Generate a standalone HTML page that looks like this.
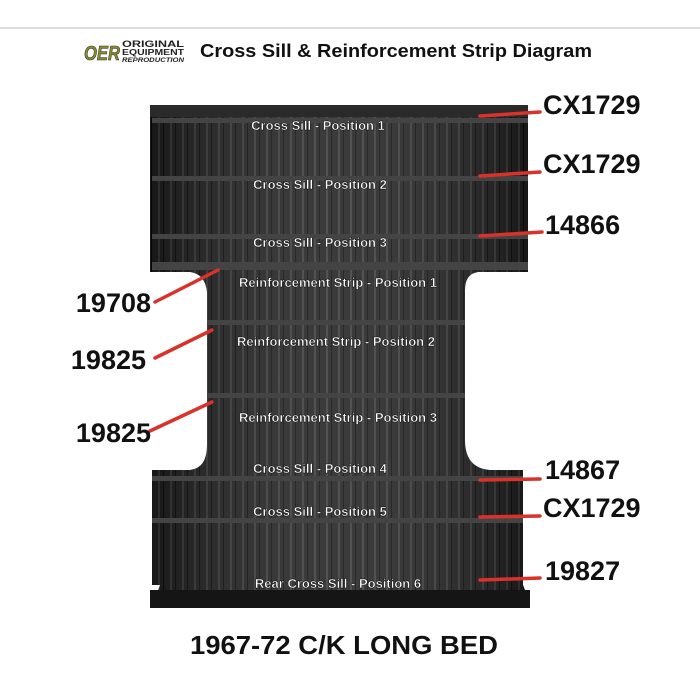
<!DOCTYPE html>
<html><head><style>
body{margin:0;background:#fff;width:700px;height:700px;overflow:hidden}
svg{display:block}
text{font-family:"Liberation Sans",sans-serif;font-weight:bold}
</style></head><body>
<svg width="700" height="700" viewBox="0 0 700 700">
<defs>
<pattern id="rib" width="12" height="10" patternUnits="userSpaceOnUse">
<rect width="12" height="10" fill="#202020"/>
<rect x="2" width="2" height="10" fill="#3a3a3a"/>
<rect x="7" width="1" height="10" fill="#0c0c0c"/>
</pattern>
<linearGradient id="sh" x1="0" x2="1"><stop offset="0" stop-color="#000" stop-opacity=".3"/><stop offset=".5" stop-color="#fff" stop-opacity=".12"/><stop offset="1" stop-color="#000" stop-opacity=".3"/></linearGradient>
</defs>
<line x1="0" y1="28" x2="700" y2="28" stroke="#bbb" stroke-width="1"/>
<text x="84" y="60" font-size="20" fill="#8a8a2a" font-style="italic" stroke="#333" stroke-width=".6" textLength="36" lengthAdjust="spacingAndGlyphs">OER</text>
<text x="122" y="47" font-size="9" fill="#222" textLength="62" lengthAdjust="spacingAndGlyphs">ORIGINAL</text>
<text x="122" y="55" font-size="8" fill="#222" textLength="62" lengthAdjust="spacingAndGlyphs">EQUIPMENT</text>
<text x="122" y="62" font-size="6" fill="#222" font-style="italic" textLength="62" lengthAdjust="spacingAndGlyphs">REPRODUCTION</text>
<text x="200" y="57" font-size="18" fill="#111" textLength="392" lengthAdjust="spacingAndGlyphs">Cross Sill &amp; Reinforcement Strip Diagram</text>
<path d="M150 105 L528 105 L528 272 L478 272 Q465 274 465 290 L465 440 Q465 468 490 470 L523 470 L523 585 L530 603 L152 608 L160 585 L152 585 L152 470 L190 470 Q207 468 207 445 L207 292 Q205 274 190 272 L150 272 Z" fill="url(#rib)"/>
<path d="M150 105 L528 105 L528 272 L478 272 Q465 274 465 290 L465 440 Q465 468 490 470 L523 470 L523 585 L530 603 L152 608 L160 585 L152 585 L152 470 L190 470 Q207 468 207 445 L207 292 Q205 274 190 272 L150 272 Z" fill="url(#sh)"/>
<rect x="150" y="105" width="378" height="12" fill="#2a2a2a"/>
<rect x="150" y="590" width="380" height="18" fill="#151515"/>
<g fill="#444">
<rect x="152" y="118" width="376" height="5"/><rect x="152" y="176" width="376" height="5"/><rect x="152" y="234" width="376" height="5"/><rect x="152" y="262" width="376" height="8"/>
<rect x="207" y="320" width="258" height="5"/><rect x="207" y="393" width="258" height="5"/>
<rect x="152" y="476" width="371" height="5"/><rect x="152" y="518" width="371" height="5"/>
</g>
<g fill="#fff" font-size="13" text-anchor="middle" stroke="#000" stroke-width=".4">
<text x="318" y="130">Cross Sill - Position 1</text>
<text x="320" y="189">Cross Sill - Position 2</text>
<text x="320" y="247">Cross Sill - Position 3</text>
<text x="338" y="287">Reinforcement Strip - Position 1</text>
<text x="336" y="346">Reinforcement Strip - Position 2</text>
<text x="338" y="422">Reinforcement Strip - Position 3</text>
<text x="320" y="473">Cross Sill - Position 4</text>
<text x="320" y="516">Cross Sill - Position 5</text>
<text x="338" y="588">Rear Cross Sill - Position 6</text>
</g>
<g stroke="#d8322a" stroke-width="3.5" stroke-linecap="round">
<line x1="480" y1="116" x2="540" y2="112"/>
<line x1="480" y1="176" x2="540" y2="172"/>
<line x1="480" y1="236" x2="542" y2="232"/>
<line x1="155" y1="302" x2="218" y2="270"/>
<line x1="155" y1="358" x2="212" y2="330"/>
<line x1="150" y1="431" x2="212" y2="402"/>
<line x1="480" y1="480" x2="540" y2="479"/>
<line x1="480" y1="517" x2="540" y2="516"/>
<line x1="480" y1="580" x2="540" y2="578"/>
</g>
<g fill="#111" font-size="27">
<text x="543" y="114">CX1729</text>
<text x="543" y="173">CX1729</text>
<text x="545" y="234">14866</text>
<text x="545" y="479">14867</text>
<text x="543" y="517">CX1729</text>
<text x="545" y="580">19827</text>
</g>
<g fill="#111" font-size="27" text-anchor="end">
<text x="151" y="312">19708</text>
<text x="146" y="369">19825</text>
<text x="151" y="442">19825</text>
</g>
<text x="190" y="654" font-size="26" fill="#111" textLength="308" lengthAdjust="spacingAndGlyphs">1967-72 C/K LONG BED</text>
</svg>
</body></html>
